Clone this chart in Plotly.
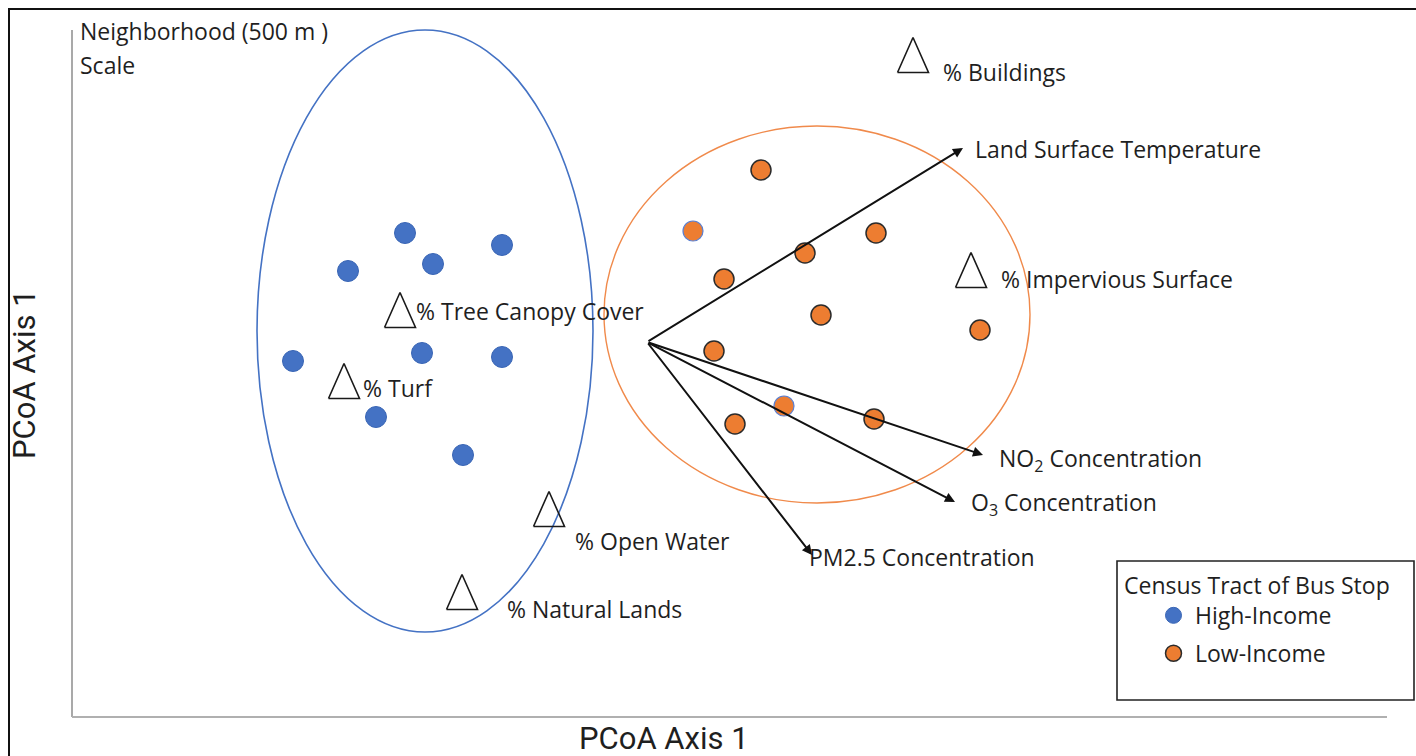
import plotly.graph_objects as go

# ---------------- data (PCoA ordination units) ----------------
high_x = [33.3, 43.0, 27.6, 36.1, 35.0, 43.0, 22.1, 30.4, 39.1]
high_y = [48.3, 47.1, 44.5, 45.2, 36.3, 35.9, 35.5, 29.9, 26.1]

low_x = [68.9, 80.4, 73.3, 65.2, 74.9, 90.8, 64.2, 66.3, 80.2]
low_y = [54.6, 48.3, 46.3, 43.7, 40.1, 38.6, 36.5, 29.2, 29.7]
# low-income stops drawn with a blue rim in the original
low_rim_x = [62.1, 71.2]
low_rim_y = [48.5, 31.0]

landcover_names = ["% Tree Canopy Cover", "% Turf", "% Open Water",
                   "% Natural Lands", "% Buildings", "% Impervious Surface"]
landcover_x = [32.8, 27.2, 47.7, 39.0, 84.1, 89.9]
landcover_y = [40.6, 33.5, 20.7, 12.4, 66.1, 44.6]

vector_names = ["Land Surface Temperature", "NO<sub>2</sub> Concentration",
                "O<sub>3</sub> Concentration", "PM2.5 Concentration"]
vector_origin = (57.5, 37.4)
vector_x = [89.1, 91.1, 88.3, 74.0]
vector_y = [56.8, 26.1, 21.4, 16.1]

# group ellipses (x0, x1, y0, y1)
high_ellipse = (18.5, 52.1, 8.4, 68.6)
low_ellipse = (53.2, 95.8, 21.3, 59.0)

# ---------------- styles ----------------
W, H = 1416, 756
XR = [-7.2, 134.4]
YR = [-4.0, 71.6]
FONT = "'Open Sans', Lato, sans-serif"
TXT = "#1f1f1f"
FS = 23
BLUE = "#4472C4"
ORANGE = "#ED7D31"
TRI_W, TRI_H = 3.1, 3.5  # triangle size in axis units
# label offsets from triangle centre (axis units)
lc_label_dx = [1.4, 1.7, 2.4, 4.3, 2.8, 2.8]
lc_label_dy = [-0.1, -0.7, -3.2, -1.7, -1.7, -0.9]
vec_label_dx = [1.0, 1.4, 1.4, -0.5]
vec_label_dy = [-0.1, -0.4, -0.1, -0.2]


def px(x):
    return x / W


def py(y):
    return 1 - y / H


fig = go.Figure()

# ellipses
shapes = []
for (x0, x1, y0, y1), col, lw in [(high_ellipse, BLUE, 1.6), (low_ellipse, "#F08A4B", 1.4)]:
    shapes.append(dict(type="circle", xref="x", yref="y", x0=x0, x1=x1, y0=y0, y1=y1,
                       line=dict(color=col, width=lw), layer="below"))

# outer frame (left + top) and axis lines
shapes += [
    dict(type="line", xref="paper", yref="paper", x0=px(9), x1=px(9), y0=py(9), y1=py(760),
         line=dict(color="#111111", width=2)),
    dict(type="line", xref="paper", yref="paper", x0=px(8), x1=px(1420), y0=py(9), y1=py(9),
         line=dict(color="#111111", width=2)),
    dict(type="line", xref="paper", yref="paper", x0=px(72), x1=px(72), y0=py(30), y1=py(717),
         line=dict(color="#8c8c8c", width=1.5)),
    dict(type="line", xref="paper", yref="paper", x0=px(72), x1=px(1387), y0=py(717), y1=py(717),
         line=dict(color="#b0b0b0", width=2)),
    # legend box
    dict(type="rect", xref="paper", yref="paper", x0=px(1117), x1=px(1414), y0=py(561), y1=py(700),
         line=dict(color="#222222", width=1.6), fillcolor="rgba(0,0,0,0)"),
]

# land-cover triangles (open)
tx, ty = [], []
for cx, cy in zip(landcover_x, landcover_y):
    tx += [cx - TRI_W / 2, cx, cx + TRI_W / 2, cx - TRI_W / 2, None]
    ty += [cy - TRI_H / 2, cy + TRI_H / 2, cy - TRI_H / 2, cy - TRI_H / 2, None]
fig.add_trace(go.Scatter(x=tx, y=ty, mode="lines", line=dict(color="#1a1a1a", width=1.6),
                         showlegend=False, hoverinfo="skip"))

# points
fig.add_trace(go.Scatter(x=high_x, y=high_y, mode="markers", name="High-Income",
                         marker=dict(size=21, color=BLUE, line=dict(color="#3a66b5", width=1))))
fig.add_trace(go.Scatter(x=low_x, y=low_y, mode="markers", name="Low-Income", legendgroup="low",
                         marker=dict(size=20, color=ORANGE, line=dict(color="#2b2b2b", width=1.5))))
fig.add_trace(go.Scatter(x=low_rim_x, y=low_rim_y, mode="markers", name="Low-Income",
                         legendgroup="low", showlegend=False,
                         marker=dict(size=20, color=ORANGE, line=dict(color="#5a7fd0", width=1.2))))

annotations = []
# vectors
ox, oy = vector_origin
for x, y in zip(vector_x, vector_y):
    annotations.append(dict(x=x, y=y, ax=ox, ay=oy, xref="x", yref="y", axref="x", ayref="y",
                            text="", showarrow=True, arrowhead=2, arrowsize=1.0, arrowwidth=2,
                            arrowcolor="#111111"))
for name, x, y, dx, dy in zip(vector_names, vector_x, vector_y, vec_label_dx, vec_label_dy):
    annotations.append(dict(x=x + dx, y=y + dy, xref="x", yref="y", text=name, showarrow=False,
                            xanchor="left", yanchor="middle", font=dict(family=FONT, size=FS, color=TXT)))
for name, x, y, dx, dy in zip(landcover_names, landcover_x, landcover_y, lc_label_dx, lc_label_dy):
    annotations.append(dict(x=x + dx, y=y + dy, xref="x", yref="y", text=name, showarrow=False,
                            xanchor="left", yanchor="middle", font=dict(family=FONT, size=FS, color=TXT)))

# scale caption
annotations.append(dict(x=px(78), y=py(31), xref="paper", yref="paper", text="Neighborhood (500 m )",
                        showarrow=False, xanchor="left", yanchor="middle",
                        font=dict(family=FONT, size=FS, color=TXT)))
annotations.append(dict(x=px(78), y=py(65), xref="paper", yref="paper", text="Scale",
                        showarrow=False, xanchor="left", yanchor="middle",
                        font=dict(family=FONT, size=FS, color=TXT)))
# axis titles
AXF = "Roboto, 'Liberation Sans Narrow', sans-serif"
annotations.append(dict(x=px(664), y=py(738), xref="paper", yref="paper", text="PCoA Axis 1",
                        showarrow=False, xanchor="center", yanchor="middle",
                        font=dict(family=AXF, size=31, color=TXT)))
annotations.append(dict(x=px(25), y=py(374), xref="paper", yref="paper", text="PCoA Axis 1",
                        showarrow=False, xanchor="center", yanchor="middle", textangle=-90,
                        font=dict(family=AXF, size=31, color=TXT)))

fig.update_layout(
    width=W, height=H,
    margin=dict(l=0, r=0, t=0, b=0),
    paper_bgcolor="white", plot_bgcolor="white",
    xaxis=dict(range=XR, visible=False, fixedrange=True),
    yaxis=dict(range=YR, visible=False, fixedrange=True),
    shapes=shapes,
    annotations=annotations,
    showlegend=True,
    legend=dict(
        x=px(1122), y=py(564), xanchor="left", yanchor="top",
        bgcolor="rgba(0,0,0,0)", borderwidth=0,
        title=dict(text="Census Tract of Bus Stop", font=dict(family=FONT, size=FS, color=TXT)),
        font=dict(family=FONT, size=FS, color=TXT),
        indentation=30,
        itemwidth=33,
        tracegroupgap=5,
    ),
)

fig.write_html("out.html")
